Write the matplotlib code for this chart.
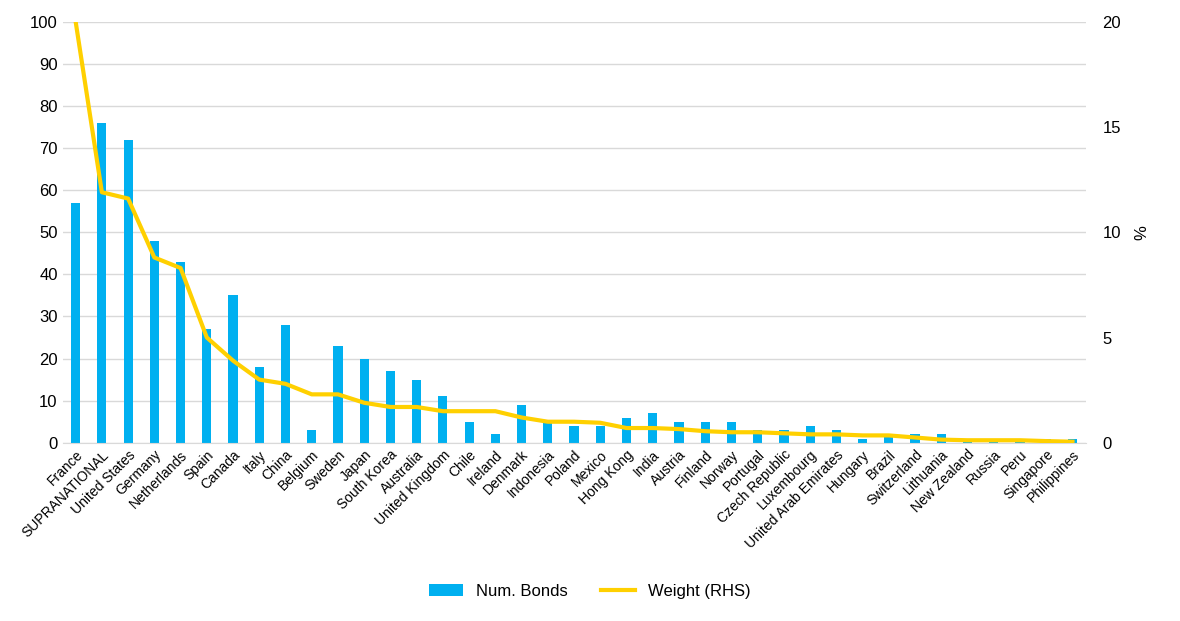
import matplotlib
matplotlib.use("Agg")
import matplotlib.pyplot as plt
import numpy as np

plt.rcParams['font.family'] = ['Liberation Sans', 'DejaVu Sans']

countries = ["France","SUPRANATIONAL","United States","Germany","Netherlands","Spain","Canada","Italy","China","Belgium","Sweden","Japan","South Korea","Australia","United Kingdom","Chile","Ireland","Denmark","Indonesia","Poland","Mexico","Hong Kong","India","Austria","Finland","Norway","Portugal","Czech Republic","Luxembourg","United Arab Emirates","Hungary","Brazil","Switzerland","Lithuania","New Zealand","Russia","Peru","Singapore","Philippines"]
num_bonds = [57,76,72,48,43,27,35,18,28,3,23,20,17,15,11,5,2,9,5,4,4,6,7,5,5,5,3,3,4,3,1,2,2,2,1,1,1,1,1]
weight = [20,11.9,11.6,8.8,8.3,5.0,3.9,3.0,2.8,2.3,2.3,1.9,1.7,1.7,1.5,1.5,1.5,1.2,1.0,1.0,0.95,0.7,0.7,0.65,0.55,0.5,0.5,0.45,0.4,0.4,0.35,0.35,0.25,0.15,0.12,0.12,0.12,0.08,0.05]

fig = plt.figure(figsize=(11.8, 6.21), dpi=100)
ax = fig.add_axes([0.053, 0.287, 0.867, 0.678])
x = np.arange(len(countries))
ax.bar(x, num_bonds, width=0.35, color='#00B0F0', label='Num. Bonds', zorder=2)
ax.set_ylim(0, 100)
ax.set_yticks(range(0, 101, 10))
ax.set_xlim(-0.5, len(countries) - 0.5)
ax.grid(axis='y', color='#D9D9D9', linewidth=1, zorder=0)
ax.set_xticks(x)
ax.set_xticklabels(countries, rotation=45, ha='right', rotation_mode='anchor', fontsize=10)
ax.tick_params(axis='both', length=0, labelsize=12)
ax.tick_params(axis='x', labelsize=10)
for s in ['top', 'right', 'left']:
    ax.spines[s].set_visible(False)
ax.spines['bottom'].set_color('#D9D9D9')

ax2 = ax.twinx()
ax2.plot(x, weight, color='#FFD000', linewidth=3, label='Weight (RHS)', zorder=3)
ax2.set_ylim(0, 20)
ax2.set_yticks([0, 5, 10, 15, 20])
ax2.tick_params(axis='y', length=0, labelsize=12, pad=12)
ax2.set_ylabel('%', fontsize=12, labelpad=10)
for s in ax2.spines.values():
    s.set_visible(False)

h1, l1 = ax.get_legend_handles_labels()
h2, l2 = ax2.get_legend_handles_labels()
fig.legend(h1 + h2, l1 + l2, loc='center', bbox_to_anchor=(0.5, 0.048), ncol=2,
           frameon=False, fontsize=12, columnspacing=2)
fig.savefig('out.png', dpi=100)
